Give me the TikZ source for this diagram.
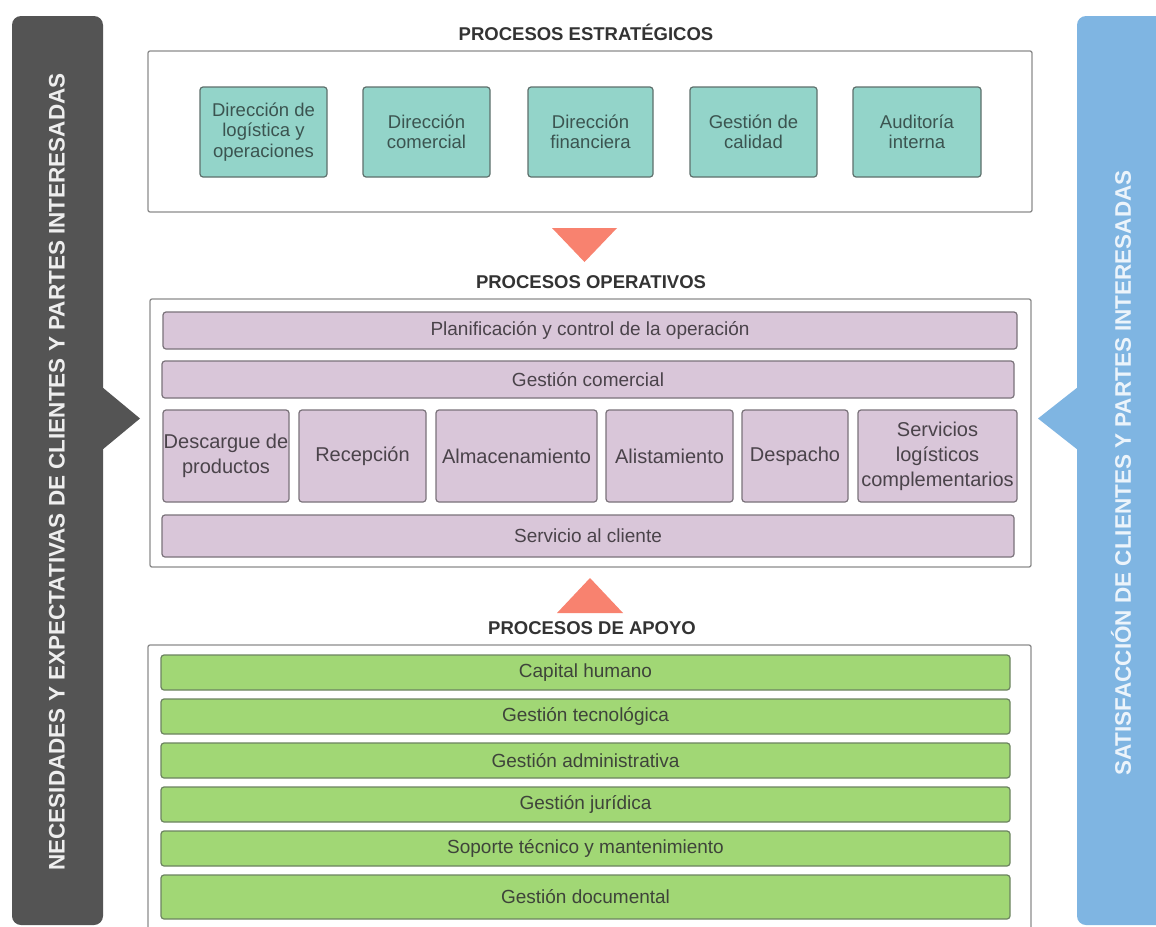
\documentclass[tikz,border=0pt]{standalone}
\usepackage{fontspec}
\setmainfont{Liberation Sans}

\definecolor{darkbar}{HTML}{545454}
\definecolor{bluebar}{HTML}{7FB5E2}
\definecolor{framegray}{HTML}{8C8C8C}
\definecolor{tealfill}{HTML}{93D4C9}
\definecolor{tealedge}{HTML}{5E706C}
\definecolor{tealtext}{HTML}{3B5450}
\definecolor{purplefill}{HTML}{D9C6D9}
\definecolor{purpleedge}{HTML}{7A727A}
\definecolor{purpletext}{HTML}{4A434A}
\definecolor{greenfill}{HTML}{A1D775}
\definecolor{greenedge}{HTML}{6C8460}
\definecolor{greentext}{HTML}{3E443A}
\definecolor{salmon}{HTML}{F8826F}
\definecolor{headtext}{HTML}{333333}

\tikzset{
  frame/.style={draw=framegray, line width=1.3pt, fill=white, rounded corners=2pt},
  header/.style={font=\fontsize{18.5}{21}\selectfont\bfseries, text=headtext, inner sep=0pt},
  sidetext/.style={font=\fontsize{22.5}{26}\selectfont\bfseries, inner sep=0pt, rotate=90},
  stratbox/.style={draw=tealedge, fill=tealfill, line width=1.2pt, rounded corners=3pt,
    minimum height=90pt, inner sep=0pt, align=center, text=tealtext,
    font=\fontsize{18.5}{20.5}\selectfont},
  opbar/.style={draw=purpleedge, fill=purplefill, line width=1.2pt, rounded corners=3pt,
    inner sep=0pt, align=center, text=purpletext, font=\fontsize{19}{22}\selectfont},
  opbox/.style={opbar, minimum height=92pt, font=\fontsize{20}{25}\selectfont},
  supbar/.style={draw=greenedge, fill=greenfill, line width=1.2pt, rounded corners=3pt,
    minimum width=849pt, inner sep=0pt, align=center, text=greentext,
    font=\fontsize{19}{22}\selectfont},
}

\begin{document}
\begin{tikzpicture}[x=1pt,y=-1pt]
\useasboundingbox (0,0) rectangle (1156,926);
\fill[white] (0,0) rectangle (1156,926);

% side bars with their pointers
\fill[darkbar, rounded corners=9pt] (12,16) rectangle (103,925);
\fill[darkbar] (102,387) -- (140,418.5) -- (102,450) -- cycle;
\fill[bluebar, rounded corners=9pt] (1077,16) rectangle (1180,925);
\fill[bluebar] (1078,387) -- (1038,418.5) -- (1078,450) -- cycle;

\node[sidetext, text=white!90!darkbar] (needs) at (57,472)
  {NECESIDADES Y EXPECTATIVAS DE CLIENTES Y PARTES INTERESADAS};
\node[sidetext, text=white!85!bluebar] (satisf) at (1121,473)
  {SATISFACCIÓN DE CLIENTES Y PARTES INTERESADAS};

% strategic processes
\node[header] (hstrat) at (586,32) {PROCESOS ESTRATÉGICOS};
\draw[frame] (148,51) rectangle (1032,212);
\node[stratbox, minimum width=127pt] (s1) at (263.5,132) {Dirección de\\logística y\\operaciones};
\node[stratbox, minimum width=127pt] (s2) at (426.5,132) {Dirección\\comercial};
\node[stratbox, minimum width=125pt] (s3) at (590.5,132) {Dirección\\financiera};
\node[stratbox, minimum width=127pt] (s4) at (753.5,132) {Gestión de\\calidad};
\node[stratbox, minimum width=128pt] (s5) at (917,132) {Auditoría\\interna};

\fill[salmon] (552,228) -- (617,228) -- (584.5,262) -- cycle;

% operational processes
\node[header] (hop) at (591,282) {PROCESOS OPERATIVOS};
\draw[frame] (150,299) rectangle (1031,567);
\node[opbar, minimum width=854pt, minimum height=37pt] (o1) at (590,330.5) {Planificación y control de la operación};
\node[opbar, minimum width=852pt, minimum height=37pt] (o2) at (588,379.5) {Gestión comercial};
\node[opbox, minimum width=126pt] (o3) at (226,456) {Descargue de\\productos};
\node[opbox, minimum width=127pt] (o4) at (362.5,456) {Recepción};
\node[opbox, minimum width=161pt] (o5) at (516.5,456) {Almacenamiento};
\node[opbox, minimum width=127pt] (o6) at (669.5,456) {Alistamiento};
\node[opbox, minimum width=106pt] (o7) at (795,456) {Despacho};
\node[opbox, minimum width=159pt] (o8) at (937.5,456) {Servicios\\logísticos\\complementarios};
\node[opbar, minimum width=852pt, minimum height=42pt] (o9) at (588,536) {Servicio al cliente};

\fill[salmon] (557,613) -- (623,613) -- (590,578) -- cycle;

% support processes
\node[header] (hsup) at (592,628) {PROCESOS DE APOYO};
\draw[frame] (148,645) rectangle (1031,950);
\node[supbar, minimum height=35pt] (a1) at (585.5,672.5) {Capital humano};
\node[supbar, minimum height=35pt] (a2) at (585.5,716.5) {Gestión tecnológica};
\node[supbar, minimum height=35pt] (a3) at (585.5,760.5) {Gestión administrativa};
\node[supbar, minimum height=35pt] (a4) at (585.5,804.5) {Gestión jurídica};
\node[supbar, minimum height=35pt] (a5) at (585.5,848.5) {Soporte técnico y mantenimiento};
\node[supbar, minimum height=44pt] (a6) at (585.5,897) {Gestión documental};
\end{tikzpicture}
\end{document}
